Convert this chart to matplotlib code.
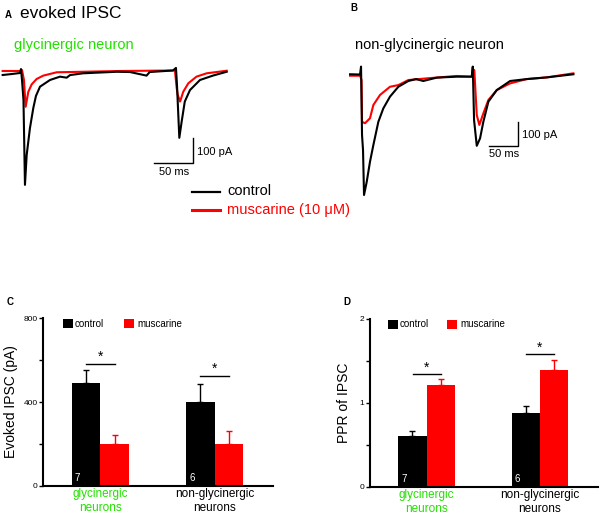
import matplotlib
matplotlib.use("Agg")
import matplotlib.pyplot as plt

plt.rcParams["font.family"] = ["Liberation Sans", "DejaVu Sans"]

GREEN = "#22e000"
RED = "#ff0000"

# ---- example traces (time in ms, current in pA) ----
gly_ctrl_t = [-23.5, -11.5, -1.3, 0.0, 1.3, 3.2, 5.1, 7.3, 11.5, 15.8, 19.2, 24.4, 37.2, 50,
              58.6, 62.8, 79.5, 101, 122.7, 139.7, 161, 165, 194.9, 198.7, 200, 203, 206,
              210, 216.7, 229.5, 246, 263.7]
gly_ctrl_i = [-13.6, -9.7, -5.8, 9.7, -33, -111, -441, -325, -220, -142, -95, -59, -33, -20,
              -24, -14, -7, -4, -1, -2, -16, -2, 4, 14, -52, -258, -195,
              -117, -72, -33, -16, -1]
gly_musc_t = [-23.5, -1.3, 1.3, 3.8, 6.0, 9.4, 13.7, 20.1, 28.6, 45.8, 79.5, 127, 197.4,
              199.6, 201, 204, 208, 214.5, 225, 238, 263.7]
gly_musc_i = [2, 2, 6, -33, -137, -79, -50, -29, -16, -3, -1, 2, 4,
              -64, -91, -117, -79, -46, -20, -7, 3]

non_ctrl_t = [-18.7, -1.7, 0.0, 1.7, 3.4, 5.1, 9.7, 15.3, 21, 29.5, 38, 49.4, 63.6, 80.6,
              93.7, 106, 129, 163, 188.6, 190.4, 192.6, 197.2, 202.8, 208.4, 217, 231.2,
              254, 282.4, 316.4, 361.8]
non_ctrl_i = [3, 2, 35, -250, -313, -500, -445, -361, -292, -195, -139, -90, -49, -25,
              -17, -25, -11, -7, -7, 35, -188, -295, -264, -195, -111, -63,
              -25, -17, -10, 3]
non_musc_t = [-18.7, -1.7, 0.9, 1.7, 6.8, 15.3, 21, 32.4, 49.4, 63.6, 80.6, 112, 163, 188.6,
              193, 197.2, 201.6, 208.4, 217, 231.2, 254, 282.4, 316.4, 361.8]
non_musc_i = [-3, -3, -21, -195, -201, -180, -125, -83, -49, -42, -21, -14, -4, -7,
              21, -167, -208, -160, -104, -63, -35, -17, -10, 7]

# ---- summary bars ----
groups = ["glycinergic\nneurons", "non-glycinergic\nneurons"]
group_colors = [GREEN, "black"]
n_cells = ["7", "6"]

ipsc_ctrl = [489, 398]
ipsc_ctrl_err = [63, 89]
ipsc_musc = [200, 200]
ipsc_musc_err = [40, 60]
ipsc_sig = [581, 524]

ppr_ctrl = [0.605, 0.879]
ppr_ctrl_err = [0.055, 0.08]
ppr_musc = [1.213, 1.392]
ppr_musc_err = [0.077, 0.115]
ppr_sig = [1.34, 1.579]

fig = plt.figure(figsize=(6.0, 5.16), dpi=100)


def trace_axes(rect, xlim, ylim):
    ax = fig.add_axes(rect)
    ax.set_xlim(*xlim)
    ax.set_ylim(*ylim)
    ax.axis("off")
    return ax


def scale_bar(ax, x0, y0, text_dx, text_dy):
    # 50 ms / 100 pA L-shaped bar, corner at (x0, y0)
    ax.plot([x0 - 50, x0, x0], [y0, y0, y0 + 100], color="black", lw=1.0)
    ax.text(x0 + text_dx, y0 + 45, "100 pA", fontsize=8, va="center", ha="left")
    ax.text(x0 - 50 + text_dy, y0 - 15, "50 ms", fontsize=8, va="top", ha="left")


# panel A
axA = trace_axes([0.0, 0.6124, 0.4, 0.281], (-26.9, 280.8), (-499.9, 64.2))
axA.plot(gly_musc_t, gly_musc_i, color=RED, lw=1.5)
axA.plot(gly_ctrl_t, gly_ctrl_i, color="black", lw=1.5)
scale_bar(axA, 221, -357, 5, 6)

# panel B
axB = trace_axes([0.5667, 0.6027, 0.4167, 0.2907], (-35.8, 390.2), (-541.7, 83.3))
axB.plot(non_musc_t, non_musc_i, color=RED, lw=1.5)
axB.plot(non_ctrl_t, non_ctrl_i, color="black", lw=1.5)
scale_bar(axB, 268, -295, 6, 0)

fig.text(5 / 600, 1 - 15 / 516, "A", fontsize=7, weight="bold", va="center")
fig.text(20 / 600, 1 - 14 / 516, "evoked IPSC", fontsize=12.5, va="center")
fig.text(14 / 600, 1 - 45 / 516, "glycinergic neuron", fontsize=10.5, color=GREEN,
         va="center")
fig.text(350 / 600, 1 - 8 / 516, "B", fontsize=7, weight="bold", va="center")
fig.text(355 / 600, 1 - 45 / 516, "non-glycinergic neuron", fontsize=10.5, va="center")

# legend for the traces
fig.add_artist(plt.Line2D([192 / 600, 220 / 600], [1 - 192 / 516] * 2, color="black", lw=1.6))
fig.add_artist(plt.Line2D([192 / 600, 220 / 600], [1 - 210 / 516] * 2, color=RED, lw=2.2))
fig.text(227 / 600, 1 - 191 / 516, "control", fontsize=10.5, va="center")
fig.text(227 / 600, 1 - 210 / 516, "muscarine (10 \u03bcM)", fontsize=10.5, va="center",
         color=RED)


def bar_panel(rect, ctrl, ctrl_err, musc, musc_err, sig, ylim, yticks, minor, ylabel,
              ylabel_pad, leg_x):
    ax = fig.add_axes(rect)
    w = 0.251
    xs = range(len(groups))
    cx = [x - w / 2 for x in xs]
    mx = [x + w / 2 for x in xs]
    ax.bar(cx, ctrl, w, color="black", zorder=2)
    ax.bar(mx, musc, w, color=RED, zorder=2)
    ax.errorbar(cx, ctrl, yerr=[[0] * len(ctrl), ctrl_err], fmt="none", ecolor="black",
                elinewidth=1, capsize=2.5, capthick=1, zorder=1)
    ax.errorbar(mx, musc, yerr=[[0] * len(musc), musc_err], fmt="none", ecolor=RED,
                elinewidth=1, capsize=2.5, capthick=1, zorder=1)
    for x, s, n in zip(xs, sig, n_cells):
        ax.plot([x - 0.125, x + 0.125], [s, s], color="black", lw=1)
        ax.text(x, s, "*", ha="center", va="bottom", fontsize=10)
        ax.text(x - w * 0.8, ylim[1] * 0.015, n, color="white", ha="center", va="bottom",
                fontsize=7)
    ax.set_xlim(-0.5, 1.51)
    ax.set_ylim(*ylim)
    ax.set_yticks(yticks)
    ax.set_yticks(minor, minor=True)
    ax.tick_params(axis="y", which="both", direction="out", length=3, width=1,
                   labelsize=6, pad=1)
    ax.tick_params(axis="x", length=0, labelsize=8.5, pad=2)
    ax.set_xticks(list(xs))
    ax.set_xticklabels(groups, linespacing=1.15)
    for lab, c in zip(ax.get_xticklabels(), group_colors):
        lab.set_color(c)
    for s in ("top", "right"):
        ax.spines[s].set_visible(False)
    for s in ("left", "bottom"):
        ax.spines[s].set_linewidth(1.5)
    ax.set_ylabel(ylabel, fontsize=10, labelpad=ylabel_pad)
    # small legend boxes at the top
    h = ylim[1] * 0.055
    top = ylim[1] * 0.995
    ax.bar([leg_x[0]], [h], 0.088, bottom=top - h, color="black", align="edge")
    ax.text(leg_x[0] + 0.1, top - h / 2, "control", fontsize=7, va="center")
    ax.bar([leg_x[1]], [h], 0.088, bottom=top - h, color=RED, align="edge")
    ax.text(leg_x[1] + 0.12, top - h / 2, "muscarine", fontsize=7, va="center")
    return ax


bar_panel([0.0722, 0.0587, 0.3828, 0.3244], ipsc_ctrl, ipsc_ctrl_err, ipsc_musc,
          ipsc_musc_err, ipsc_sig, (0, 800), [0, 400, 800], [200, 600],
          "Evoked IPSC (pA)", 4, [-0.329, 0.206])
bar_panel([0.6167, 0.0568, 0.3795, 0.325], ppr_ctrl, ppr_ctrl_err, ppr_musc,
          ppr_musc_err, ppr_sig, (0, 2), [0, 1, 2], [0.5, 1.5],
          "PPR of IPSC", 6, [-0.34, 0.18])

fig.text(7 / 600, 1 - 302 / 516, "C", fontsize=7, weight="bold", va="center")
fig.text(343 / 600, 1 - 302 / 516, "D", fontsize=7, weight="bold", va="center")

fig.savefig("out.png", dpi=100)
